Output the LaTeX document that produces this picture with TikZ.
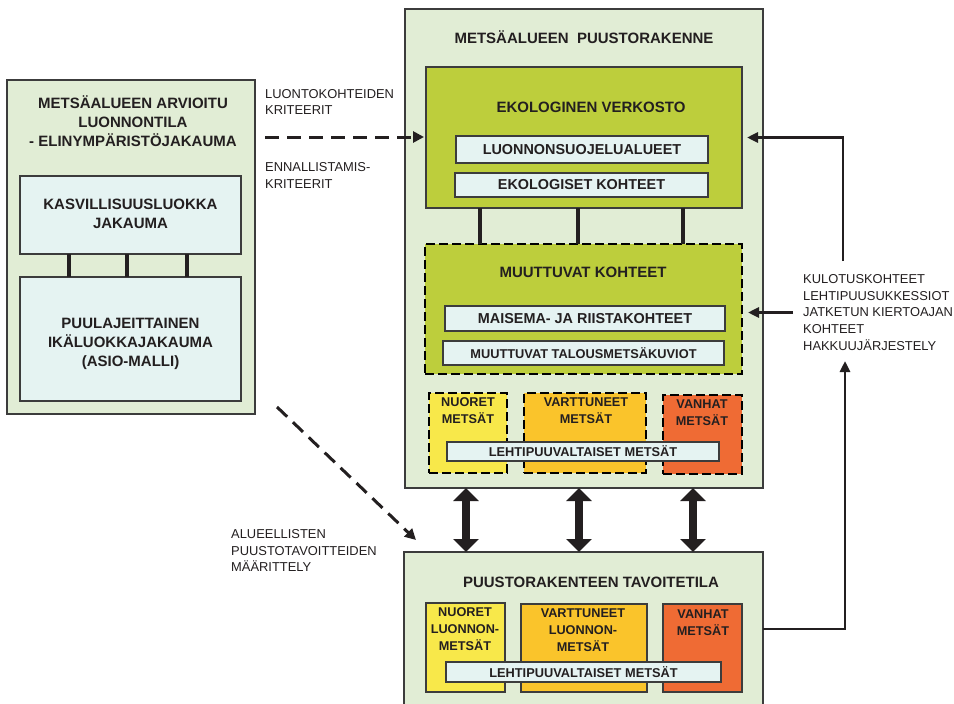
\documentclass[tikz,border=0pt]{standalone}
\usepackage{fontspec}
\setmainfont{Liberation Sans}
\usetikzlibrary{arrows.meta}

\definecolor{ink}{HTML}{231F20}
\definecolor{edge}{HTML}{3C3C3C}
\definecolor{paleg}{HTML}{E1EDD5}
\definecolor{olive}{HTML}{BDCE3C}
\definecolor{ice}{HTML}{E5F3F2}
\definecolor{young}{HTML}{F8E84A}
\definecolor{mid}{HTML}{FAC42B}
\definecolor{old}{HTML}{EF6B34}

\tikzset{
  panel/.style={draw=edge, line width=1.1pt, fill=#1, inner sep=0pt, outer sep=0pt},
  panel/.default=paleg,
  dpanel/.style={draw=black, line width=1.8pt, dash pattern=on 9pt off 4pt, fill=#1, inner sep=0pt, outer sep=0pt},
  chip/.style={draw=edge, line width=1.1pt, fill=ice, inner sep=0pt, outer sep=0pt, text=ink,
    font=\bfseries\fontsize{14.4}{17}\selectfont},
  smallchip/.style={chip, font=\bfseries\fontsize{12.8}{15}\selectfont},
  ttl/.style={text=ink, align=center, inner sep=0pt, font=\bfseries\fontsize{15}{19}\selectfont},
  sttl/.style={text=ink, align=center, inner sep=0pt, font=\bfseries\fontsize{12.7}{17}\selectfont},
  note/.style={text=ink, align=left, anchor=west, inner sep=0pt, font=\fontsize{12.9}{16.8}\selectfont},
  link/.style={draw=ink, line width=3.6pt},
  feed/.style={draw=ink, line width=2.7pt, -{Triangle[length=11pt,width=10pt]}},
  dasharrow/.style={draw=ink, line width=3pt, dash pattern=on 14pt off 8pt, -{Triangle[length=11pt,width=11pt]}},
  twoway/.style={draw=ink, line width=8pt, {Triangle[length=13pt,width=25pt]}-{Triangle[length=13pt,width=25pt]}}
}

\begin{document}
\begin{tikzpicture}[x=1pt,y=-1pt]
\clip (0,0) rectangle (954,704);
\fill[white] (0,0) rectangle (954,704);

% ---- left column: present state of the area
\node[panel, minimum width=248pt, minimum height=334pt] (left) at (131,247) {};
\node[ttl] (lefttitle) at (133,121.5) {METSÄALUEEN ARVIOITU\\LUONNONTILA\\- ELINYMPÄRISTÖJAKAUMA};
\node[panel=ice, minimum width=221pt, minimum height=78pt] (kasvi) at (130.5,215) {};
\node[ttl] (kasvit) at (130.5,213.5) {KASVILLISUUSLUOKKA\\JAKAUMA};
\node[panel=ice, minimum width=221pt, minimum height=124pt] (puula) at (130.5,339) {};
\node[ttl] (puulat) at (130.5,343.5) {PUULAJEITTAINEN\\IKÄLUOKKAJAKAUMA\\(ASIO-MALLI)};
\foreach \x/\n in {69/a,127/b,187/c}{
  \coordinate (k\n) at (\x,0);
  \draw[link] (k\n |- kasvi.south) -- (k\n |- puula.north);
}

% ---- middle column: stand structure of the area
\node[panel, minimum width=358pt, minimum height=479pt] (main) at (584,248.5) {};
\node[ttl] (maintitle) at (584,37) {METSÄALUEEN\ \ PUUSTORAKENNE};

\node[panel=olive, minimum width=316pt, minimum height=141pt] (eko) at (584,137.5) {};
\node[ttl] (ekot) at (591,107) {EKOLOGINEN VERKOSTO};
\node[chip, minimum width=252pt, minimum height=27pt] (luon) at (582,149.5) {LUONNONSUOJELUALUEET};
\node[chip, minimum width=253pt, minimum height=24pt] (ekok) at (581.5,185) {EKOLOGISET KOHTEET};

\node[dpanel=olive, minimum width=317pt, minimum height=130pt] (muut) at (583.5,309) {};
\node[ttl] (muutt) at (583,272) {MUUTTUVAT KOHTEET};
\node[chip, minimum width=280pt, minimum height=25pt] (mais) at (585,318.5) {MAISEMA- JA RIISTAKOHTEET};
\node[smallchip, minimum width=281pt, minimum height=24pt] (talo) at (583.5,353) {MUUTTUVAT TALOUSMETSÄKUVIOT};

\foreach \x/\n in {480/a,578/b,683/c}{
  \coordinate (e\n) at (\x,0);
  \draw[link] (e\n |- eko.south) -- (e\n |- muut.north);
}

\node[dpanel=young, minimum width=78pt, minimum height=80pt] (nuor1) at (468,433) {};
\node[dpanel=mid, minimum width=122pt, minimum height=80pt] (vart1) at (585,433) {};
\node[dpanel=old, minimum width=79pt, minimum height=79pt] (vanh1) at (702.5,434.5) {};
\node[sttl] (nuor1t) at (468,411) {NUORET\\METSÄT};
\node[sttl] (vart1t) at (586,411) {VARTTUNEET\\METSÄT};
\node[sttl] (vanh1t) at (702,412.5) {VANHAT\\METSÄT};
\node[smallchip, minimum width=272pt, minimum height=19pt] (lehti1) at (583,451.5) {LEHTIPUUVALTAISET METSÄT};

% ---- bottom: target state
\node[panel, minimum width=359pt, minimum height=154pt] (bot) at (583.5,629) {};
\node[ttl] (bott) at (591,582) {PUUSTORAKENTEEN TAVOITETILA};
\node[panel=young, minimum width=79pt, minimum height=89pt] (nuor2) at (465.5,647.5) {};
\node[panel=mid, minimum width=126pt, minimum height=88pt] (vart2) at (584,648) {};
\node[panel=old, minimum width=79pt, minimum height=88pt] (vanh2) at (702.5,648) {};
\node[sttl] (nuor2t) at (465,629.5) {NUORET\\LUONNON-\\METSÄT};
\node[sttl] (vart2t) at (583,630) {VARTTUNEET\\LUONNON-\\METSÄT};
\node[sttl] (vanh2t) at (703,622.5) {VANHAT\\METSÄT};
\node[smallchip, minimum width=275pt, minimum height=20pt] (lehti2) at (583.5,672) {LEHTIPUUVALTAISET METSÄT};

% ---- two-way links between present structure and target
\foreach \x/\n in {466/a,579/b,693/c}{
  \coordinate (v\n) at (\x,0);
  \draw[twoway] (v\n |- main.south) -- (v\n |- bot.north);
}

% ---- criteria on the left
\node[note] (crit1) at (265,102) {LUONTOKOHTEIDEN\\KRITEERIT};
\node[note] (crit2) at (265,175.5) {ENNALLISTAMIS-\\KRITEERIT};
\coordinate (ls) at (265,137);
\draw[dasharrow, shorten >=2pt] (ls) -- (ls -| eko.west);

\node[note] (goal) at (231,550.5) {ALUEELLISTEN\\PUUSTOTAVOITTEIDEN\\MÄÄRITTELY};
\coordinate (ds) at (277,407);
\coordinate (de) at (416,540);
\draw[dasharrow] (ds) -- (de);

% ---- feedback on the right
\node[note] (rtext) at (803,312.5) {KULOTUSKOHTEET\\LEHTIPUUSUKKESSIOT\\JATKETUN KIERTOAJAN\\KOHTEET\\HAKKUUJÄRJESTELY};
\coordinate (rk) at (845,361);
\draw[feed] (bot.east) -| (rk);
\coordinate (rs) at (843,261);
\draw[feed, shorten >=5pt] (rs) |- (eko.east);
\draw[feed, shorten >=6pt] ([xshift=-10pt]rtext.west) -- (muut.east |- rtext.west);
\end{tikzpicture}
\end{document}
